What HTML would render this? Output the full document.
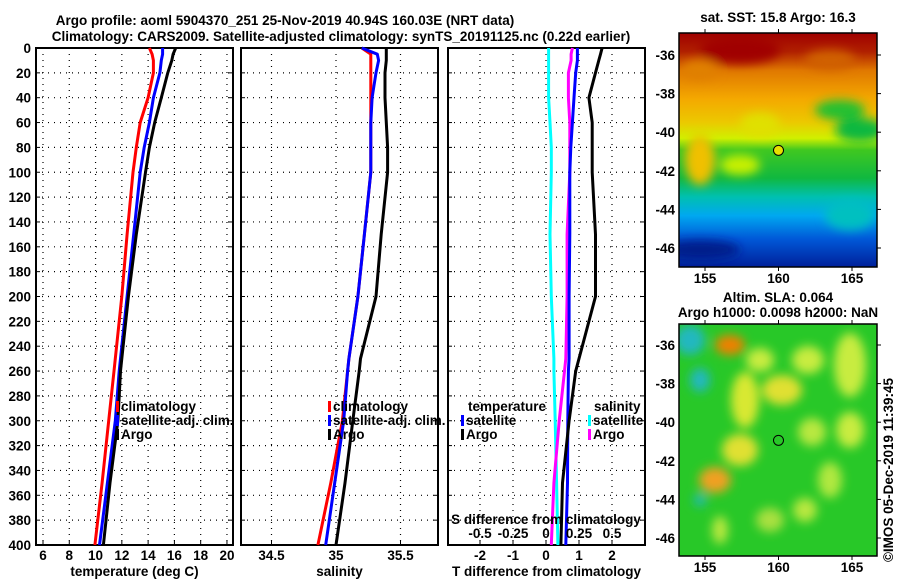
<!DOCTYPE html>
<html><head><meta charset="utf-8"><style>
body{margin:0;background:#fff;}
svg text{font-family:"Liberation Sans",sans-serif;font-weight:bold;font-size:13.5px;fill:#000;}
</style></head><body>
<svg id="c" width="900" height="580" xmlns="http://www.w3.org/2000/svg">
<defs>
<linearGradient id="sst" x1="0" y1="0" x2="0" y2="1">
<stop offset="0" stop-color="#a00000"/><stop offset="0.08" stop-color="#b02000"/>
<stop offset="0.16" stop-color="#e07800"/><stop offset="0.28" stop-color="#f4a800"/>
<stop offset="0.38" stop-color="#ecc800"/><stop offset="0.45" stop-color="#d0f000"/>
<stop offset="0.5" stop-color="#40c820"/><stop offset="0.62" stop-color="#10b840"/>
<stop offset="0.7" stop-color="#00c0b0"/><stop offset="0.78" stop-color="#00a8f0"/>
<stop offset="0.88" stop-color="#0058d8"/><stop offset="1" stop-color="#00209a"/>
</linearGradient>
<filter id="bl" x="-50%" y="-50%" width="200%" height="200%"><feGaussianBlur stdDeviation="5"/></filter>
<clipPath id="cm1"><rect x="679" y="33" width="198" height="234"/></clipPath>
<clipPath id="cm2"><rect x="679" y="324" width="198" height="232"/></clipPath>
</defs>
<text x="285" y="25" text-anchor="middle">Argo profile: aoml 5904370_251 25-Nov-2019 40.94S 160.03E (NRT data)</text>
<text x="341" y="41" text-anchor="middle">Climatology: CARS2009. Satellite-adjusted climatology: synTS_20191125.nc (0.22d earlier)</text>
<g id="panels"></g>
<g id="maps"></g>
<text transform="translate(893,470) rotate(-90)" text-anchor="middle" font-size="13">©IMOS 05-Dec-2019 11:39:45</text>
</svg>
<script>
const NS="http://www.w3.org/2000/svg";
const depths=[0,5,10,20,40,60,80,100,150,200,250,260,300,350,400];
const tempClim=[14.1,14.3,14.4,14.4,14.0,13.4,13.1,12.85,12.4,12.0,11.5,11.4,11.0,10.5,9.95];
const tempSat=[15.1,15.1,15.0,14.9,14.4,14.1,13.7,13.4,12.9,12.4,11.9,11.8,11.5,10.9,10.3];
const tempArgo=[16.1,15.9,15.8,15.5,15.0,14.5,14.1,13.8,13.1,12.5,12.0,11.9,11.7,11.1,10.6];
const salClim=[35.2,35.27,35.27,35.27,35.27,35.27,35.27,35.27,35.22,35.17,35.1,35.09,35.05,34.96,34.86];
const salSat=[35.2,35.32,35.33,35.31,35.28,35.27,35.27,35.27,35.22,35.17,35.1,35.09,35.06,34.99,34.92];
const salArgo=[35.39,35.39,35.39,35.38,35.38,35.39,35.4,35.40,35.35,35.31,35.19,35.18,35.13,35.07,35.0];
const dTsat=[0.95,0.95,0.95,0.9,0.85,0.8,0.75,0.72,0.72,0.7,0.7,0.68,0.66,0.65,0.6];
const dTargo=[1.7,1.65,1.6,1.5,1.3,1.4,1.4,1.4,1.5,1.5,1.0,0.9,0.7,0.5,0.45];
const dSsat=[0.02,0.02,0.02,0.02,0.02,0.03,0.04,0.04,0.03,0.04,0.06,0.06,0.07,0.08,0.09];
const dSargo=[0.2,0.19,0.19,0.17,0.17,0.18,0.18,0.18,0.16,0.16,0.15,0.14,0.1,0.06,0.04];
const depthTicks=[0,20,40,60,80,100,120,140,160,180,200,220,240,260,280,300,320,340,360,380,400];
const tTicks=[6,8,10,12,14,16,18,20];
const sTicks=[34.5,35,35.5];
const dtTicks=[-2,-1,0,1,2];
const dsTicks=[-0.5,-0.25,0,0.25,0.5];
const lonTicks=[155,160,165];
const latTicks=[-36,-38,-40,-42,-44,-46];

const Y0=48,Y1=545;
const yD=d=>Y0+d*(Y1-Y0)/400;
const xT=t=>43+(t-6)*13.14;
const xS=s=>336+(s-35)*129;
const xDT=d=>546+d*33;
const xDS=d=>546+d*132;
const mx=lon=>705+(lon-155)*14.7;
const myTop=lat=>55+(-36-lat)*19.3;
const myBot=lat=>345+(-36-lat)*19.3;

const P=document.getElementById('panels');
function el(tag,attrs,parent,text){const e=document.createElementNS(NS,tag);for(const k in attrs)e.setAttribute(k,attrs[k]);if(text!==undefined)e.textContent=text;(parent||P).appendChild(e);return e;}

function panel(x0,x1,name,xs,ticks,fmt,xlabel,yLabels){
  const g=el('g',{});
  
  
  depthTicks.forEach(d=>{
    const y=yD(d);
    if(d>0&&d<400){const l=el('line',{x1:x0,x2:x1,y1:y,y2:y,stroke:'#000','stroke-width':1.2,'stroke-dasharray':'1 5'},g);}
    el('line',{x1:x0,x2:x0+4,y1:y,y2:y,stroke:'#000'},g);
    el('line',{x1:x1-4,x2:x1,y1:y,y2:y,stroke:'#000'},g);
    if(yLabels){const t=el('text',{x:x0-5,y:y+5,'text-anchor':'end'},g,String(d));}
  });
  ticks.forEach(v=>{
    const x=xs(v);
    const l=el('line',{x1:x,x2:x,y1:Y0,y2:Y1,stroke:'#000','stroke-width':1.2,'stroke-dasharray':'1 5'},g);
    
    
    el('line',{x1:x,x2:x,y1:Y1-4,y2:Y1,stroke:'#000'},g);
    const t=el('text',{x:x,y:560,'text-anchor':'middle'},g,fmt(v));
    
    
  });
  const r=el('rect',{x:x0,y:Y0,width:x1-x0,height:Y1-Y0,fill:'none',stroke:'#000','stroke-width':2},g);
  
  
  const xl=el('text',{x:(x0+x1)/2,y:576,'text-anchor':'middle'},g,xlabel);
  
  
  return g;
}
function series(g,xs,vals,color,name){
  const pts=depths.map((d,i)=>xs(vals[i]).toFixed(1)+','+yD(d).toFixed(1)).join(' ');
  const p=el('polyline',{points:pts,fill:'none',stroke:color,'stroke-width':3,'stroke-linejoin':'round'},g);
  
  
}
function legend(g,x,y,color,label){
  const b=el('rect',{x:x,y:y-10,width:3,height:11,fill:color},g);
  
  
  const t=el('text',{x:x+5,y:y},g,label);
  
  
}
const g1=panel(36,233,'temperature-panel',xT,tTicks,String,'temperature (deg C)',true);
series(g1,xT,tempClim,'#f00','climatology-temperature-line');
series(g1,xT,tempSat,'#00f','satellite-temperature-line');
series(g1,xT,tempArgo,'#000','argo-temperature-line');
legend(g1,116,411,'#f00','climatology');legend(g1,116,425,'#00f','satellite-adj. clim.');legend(g1,116,439,'#000','Argo');

const g2=panel(241,438,'salinity-panel',xS,sTicks,String,'salinity',false);
series(g2,xS,salClim,'#f00','climatology-salinity-line');
series(g2,xS,salSat,'#00f','satellite-salinity-line');
series(g2,xS,salArgo,'#000','argo-salinity-line');
legend(g2,328,411,'#f00','climatology');legend(g2,328,425,'#00f','satellite-adj. clim.');legend(g2,328,439,'#000','Argo');

const g3=panel(448,645,'difference-panel',xDT,dtTicks,String,'T difference from climatology',false);
series(g3,xDS,dSsat,'#0ff','satellite-salinity-diff-line');
series(g3,xDS,dSargo,'#f0f','argo-salinity-diff-line');
series(g3,xDT,dTsat,'#00f','satellite-temperature-diff-line');
series(g3,xDT,dTargo,'#000','argo-temperature-diff-line');
{const t=el('text',{x:468,y:411},g3,'temperature');}
legend(g3,461,425,'#00f','satellite');legend(g3,461,439,'#000','Argo');
{const t=el('text',{x:594,y:411},g3,'salinity');}
legend(g3,588,425,'#0ff','satellite');legend(g3,588,439,'#f0f','Argo');
{const t=el('text',{x:546,y:524,'text-anchor':'middle'},g3,'S difference from climatology');}
dsTicks.forEach(v=>{const t=el('text',{x:xDS(v),y:538,'text-anchor':'middle'},g3,String(v));});

// maps
const M=document.getElementById('maps');
function mapAxes(g,y0,y1,my){
  lonTicks.forEach(v=>{const x=mx(v);el('line',{x1:x,x2:x,y1:y0-4,y2:y0,stroke:'#000'},g);el('line',{x1:x,x2:x,y1:y1,y2:y1+4,stroke:'#000'},g);
    const t=el('text',{x:x,y:y1+16,'text-anchor':'middle'},g,String(v));});
  latTicks.forEach(v=>{const y=my(v);el('line',{x1:877,x2:881,y1:y,y2:y,stroke:'#000'},g);
    const t=el('text',{x:675,y:y+5,'text-anchor':'end'},g,String(v));});
  el('rect',{x:679,y:y0,width:198,height:y1-y0,fill:'none',stroke:'#000','stroke-width':1.5},g);
}
const m1=el('g',{},M);


el('rect',{x:679,y:33,width:198,height:234,fill:'url(#sst)'},m1);
const b1=el('g',{'clip-path':'url(#cm1)',filter:'url(#bl)'},m1);
[[740,50,40,14,'#a00000'],[700,70,18,10,'#e08000'],[830,60,25,10,'#d06000'],[700,160,15,25,'#f0c000'],[760,125,20,12,'#e0e000'],[860,130,25,12,'#10b840'],[840,110,25,10,'#20c030'],[740,165,20,10,'#c8f000'],[700,250,40,10,'#001a8a'],[850,215,25,15,'#00c0c0']].forEach(b=>el('ellipse',{cx:b[0],cy:b[1],rx:b[2],ry:b[3],fill:b[4]},b1));
mapAxes(m1,33,267,myTop);
{const c=el('circle',{cx:mx(160),cy:myTop(-40.94),r:5,fill:'#e8e000',stroke:'#000'},m1);}
{const t=el('text',{x:778,y:22,'text-anchor':'middle'},m1,'sat. SST: 15.8 Argo: 16.3');}

const m2=el('g',{},M);


el('rect',{x:679,y:324,width:198,height:232,fill:'#28c828'},m2);
const b2=el('g',{'clip-path':'url(#cm2)',filter:'url(#bl)'},m2);
[[690,340,15,15,'#20b8c0'],[700,380,10,12,'#20b8c0'],[730,345,15,10,'#f08000'],[745,400,14,28,'#d8e830'],[740,450,18,16,'#e0e030'],[782,390,20,15,'#e0e030'],[808,360,16,14,'#c8ec40'],[812,432,14,14,'#b8e840'],[715,480,16,13,'#f0a020'],[850,365,16,32,'#c8ec40'],[850,430,14,18,'#c8ec40'],[805,510,12,12,'#b8e840'],[700,500,6,6,'#20b8c0'],[760,360,14,12,'#c8ec40'],[830,480,12,18,'#b0e840'],[770,520,14,12,'#a8e040'],[720,530,8,14,'#b8e840']].forEach(b=>el('ellipse',{cx:b[0],cy:b[1],rx:b[2],ry:b[3],fill:b[4]},b2));
mapAxes(m2,324,556,myBot);
{const c=el('circle',{cx:mx(160),cy:myBot(-40.94),r:5,fill:'none',stroke:'#000'},m2);}
{const t=el('text',{x:778,y:302,'text-anchor':'middle'},m2,'Altim. SLA: 0.064');}
{const t=el('text',{x:778,y:317,'text-anchor':'middle'},m2,'Argo h1000: 0.0098 h2000: NaN');}
</script>
</body></html>
